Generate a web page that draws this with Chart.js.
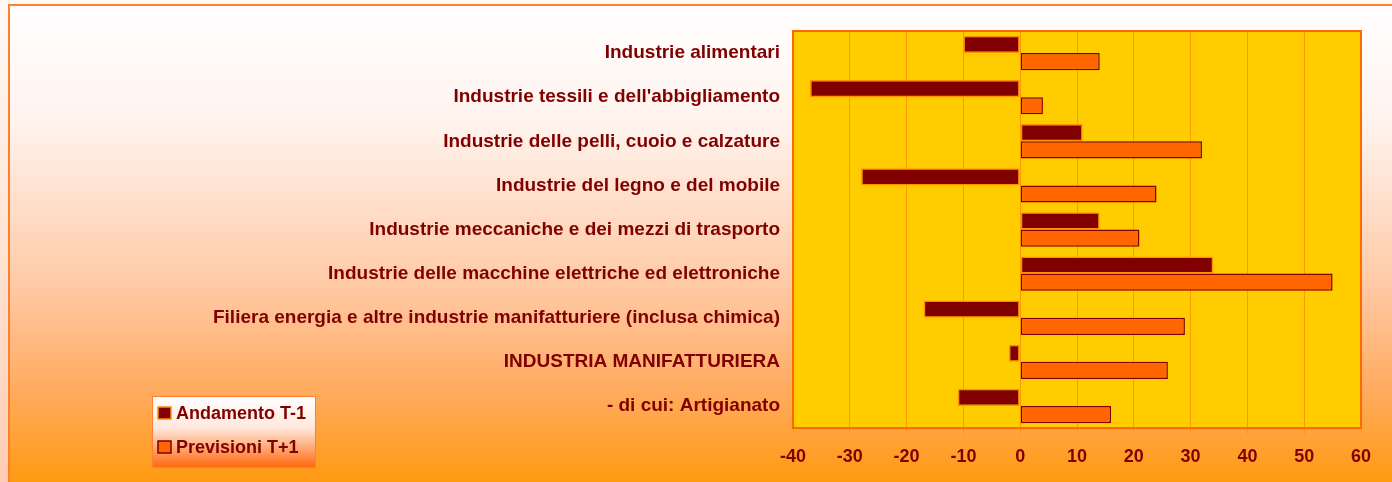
<!DOCTYPE html>
<html><head><meta charset="utf-8">
<script src="https://cdn.jsdelivr.net/npm/chart.js@4"></script>
<style>html,body{margin:0;padding:0;overflow:hidden;background:#fff}#wrap{width:1392px;height:482px;position:relative}</style>
</head><body><div id="wrap"><canvas id="c" width="1392" height="482"></canvas></div>
<script>
const categories = [
  "Industrie alimentari",
  "Industrie tessili e dell'abbigliamento",
  "Industrie delle pelli, cuoio e calzature",
  "Industrie del legno e del mobile",
  "Industrie meccaniche e dei mezzi di trasporto",
  "Industrie delle macchine elettriche ed elettroniche",
  "Filiera energia e altre industrie manifatturiere (inclusa chimica)",
  "INDUSTRIA MANIFATTURIERA",
  "- di cui: Artigianato"
];
const andamento = [-10, -37, 11, -28, 14, 34, -17, -2, -11];
const previsioni = [14, 4, 32, 24, 21, 55, 29, 26, 16];
const seriesNames = ["Andamento T-1", "Previsioni T+1"];
const xMin = -40, xMax = 60, xStep = 10;

const FONT = "'Liberation Sans', Arial, sans-serif";
const DARK = '#800000';

const bgPlugin = {
  id: 'bg',
  beforeDraw(chart) {
    const ctx = chart.ctx, W = chart.width, H = chart.height;
    ctx.save();
    let g = ctx.createLinearGradient(0, 0, 0, H);
    g.addColorStop(0, '#fffaf7'); g.addColorStop(1, '#ffcdb2');
    ctx.fillStyle = g; ctx.fillRect(0, 0, W, H);
    g = ctx.createLinearGradient(0, 4, 0, H);
    g.addColorStop(0, '#ffffff');
    g.addColorStop(0.25, '#fff3ee');
    g.addColorStop(0.6, '#ffc8a2');
    g.addColorStop(0.8, '#ffac62');
    g.addColorStop(1, '#ff9a12');
    ctx.fillStyle = g; ctx.fillRect(9, 5, W, H);
    ctx.strokeStyle = '#ff7f2a'; ctx.lineWidth = 2;
    ctx.beginPath(); ctx.moveTo(9, H + 2); ctx.lineTo(9, 5); ctx.lineTo(W + 2, 5); ctx.stroke();
    const a = chart.chartArea;
    ctx.fillStyle = '#ffcc00';
    ctx.fillRect(a.left, a.top, a.right - a.left, a.bottom - a.top);
    ctx.restore();
  },
  afterDatasetsDraw(chart) {
    const ctx = chart.ctx, a = chart.chartArea;
    ctx.save();
    ctx.strokeStyle = '#ff6a00'; ctx.lineWidth = 2;
    ctx.strokeRect(a.left, a.top, a.right - a.left, a.bottom - a.top);
    ctx.restore();
  },
  afterDraw(chart) {
    const ctx = chart.ctx;
    const x = 152, y = 396, w = 163, h = 71;
    ctx.save();
    const g = ctx.createLinearGradient(0, y, 0, y + h);
    g.addColorStop(0, '#ffffff'); g.addColorStop(0.45, '#ffe8dc'); g.addColorStop(1, '#ff6a10');
    ctx.fillStyle = g; ctx.fillRect(x, y, w, h);
    ctx.strokeStyle = '#ff8030'; ctx.lineWidth = 1;
    ctx.strokeRect(x + 0.5, y + 0.5, w, h);
    const ds = chart.data.datasets;
    ds.forEach((d, i) => {
      const cy = 413 + i * 34;
      ctx.fillStyle = d.backgroundColor;
      ctx.fillRect(158, cy - 6, 13, 12);
      ctx.strokeStyle = d.borderColor; ctx.lineWidth = 1.5;
      ctx.strokeRect(158, cy - 6, 13, 12);
      ctx.fillStyle = DARK;
      ctx.font = "bold 18px " + FONT;
      ctx.textBaseline = 'middle'; ctx.textAlign = 'left';
      ctx.fillText(d.label, 176, cy + 1);
    });
    ctx.restore();
  }
};

new Chart(document.getElementById('c'), {
  type: 'bar',
  data: {
    labels: categories,
    datasets: [
      { label: seriesNames[0], data: andamento, backgroundColor: DARK, borderColor: '#ff9000', borderWidth: 1.5, borderSkipped: false },
      { label: seriesNames[1], data: previsioni, backgroundColor: '#ff6600', borderColor: DARK, borderWidth: 1.5, borderSkipped: false }
    ]
  },
  options: {
    indexAxis: 'y',
    responsive: false,
    animation: false,
    layout: { padding: { left: 0, top: 31, right: 31, bottom: 0 } },
    datasets: { bar: { categoryPercentage: 0.78, barPercentage: 1.0 } },
    plugins: { legend: { display: false }, tooltip: { enabled: false } },
    scales: {
      x: {
        min: xMin, max: xMax,
        ticks: { stepSize: xStep, color: DARK, font: { family: FONT, size: 18, weight: 'bold' }, padding: 12 },
        grid: { color: '#ff9900', lineWidth: 1, tickLength: 6, drawTicks: true },
        border: { display: false },
        afterFit(s) { s.height = 54; }
      },
      y: {
        ticks: { color: DARK, font: { family: FONT, size: 19, weight: 'bold' }, padding: 5 },
        grid: { display: false },
        border: { display: false },
        afterFit(s) { s.width = 793; }
      }
    }
  },
  plugins: [bgPlugin]
});
</script>
</body></html>
